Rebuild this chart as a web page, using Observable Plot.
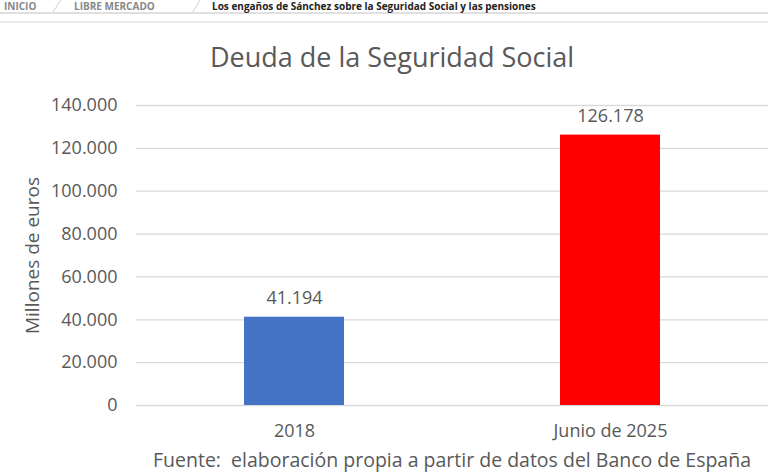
<!DOCTYPE html>
<html>
<head>
<meta charset="utf-8">
<script src="https://cdn.jsdelivr.net/npm/d3@7"></script>
<script src="https://cdn.jsdelivr.net/npm/@observablehq/plot@0.6"></script>
<style>
  html, body { margin: 0; padding: 0; background: #fff; width: 768px; height: 473px; overflow: hidden; position: relative; font-family: "Open Sans", sans-serif; }
  #crumb { position: absolute; left: 0; top: 0; width: 768px; height: 12px; border-bottom: 2px solid #e0e0e0; }
  #crumb span { position: absolute; top: 0px; font-size: 10px; line-height: 12px; font-weight: bold; white-space: nowrap; }
  #crumb svg { position: absolute; left: 0; top: 0; }
  #crumb2 { position: absolute; left: 0; top: 21px; width: 768px; height: 0; border-bottom: 2px solid #ececec; }
  #title { position: absolute; left: 0; top: 40px; width: 768px; text-align: center; font-size: 27px; color: #595959; line-height: 34px; padding-left: 16px; box-sizing: border-box; white-space: nowrap; }
  #chart { position: absolute; left: 0; top: 80px; }
  #foot { position: absolute; left: 153px; top: 448px; font-size: 19.5px; color: #595959; white-space: nowrap; line-height: 24px; }
</style>
</head>
<body>
<div id="crumb">
  <svg width="768" height="12"><line x1="53" y1="12" x2="61" y2="0" stroke="#cfcfcf"/><line x1="193" y1="12" x2="200" y2="0" stroke="#cfcfcf"/></svg>
  <span style="left:4px;color:#888">INICIO</span>
  <span style="left:74px;color:#888">LIBRE MERCADO</span>
  <span style="left:212px;color:#222">Los engaños de Sánchez sobre la Seguridad Social y las pensiones</span>
</div>
<div id="crumb2"></div>
<div id="title">Deuda de la Seguridad Social</div>
<div id="chart"></div>
<div id="foot">Fuente:&nbsp; elaboración propia a partir de datos del Banco de España</div>
<script>
const categories = ["2018", "Junio de 2025"];
const values = [41194, 126178];
const barColors = ["#4472C4", "#FF0000"];
const yTicks = [0, 20000, 40000, 60000, 80000, 100000, 120000, 140000];

const data = categories.map((c, i) => ({category: c, value: values[i], color: barColors[i]}));
const fmt = d3.formatLocale({decimal: ",", thousands: ".", grouping: [3], currency: ["", "€"]}).format(",d");

const chart = Plot.plot({
  width: 768,
  height: 373,
  marginTop: 25,
  marginBottom: 48,
  marginLeft: 136,
  marginRight: 0,
  style: {fontFamily: "Open Sans, sans-serif", fontSize: "18px", color: "#595959", background: "#fff"},
  x: {domain: categories, paddingInner: 0.683, paddingOuter: 0.3415, label: null},
  y: {domain: [0, 140000], ticks: yTicks, label: null},
  marks: [
    Plot.gridY(yTicks, {stroke: "#d9d9d9", strokeOpacity: 1, strokeWidth: 1.3}),
    Plot.barY(data, {x: "category", y: "value", fill: "color"}),
    Plot.text(data, {x: "category", y: "value", text: d => fmt(d.value), lineAnchor: "bottom", dy: -13, fill: "#595959", fontSize: 18}),
    Plot.axisY({ticks: yTicks, tickFormat: fmt, tickSize: 0, tickPadding: 19, label: "Millones de euros", labelAnchor: "center", labelArrow: false, labelOffset: 111, fontSize: 18}),
    Plot.axisX({tickSize: 0, tickPadding: 19, fontSize: 18, label: null})
  ]
});
chart.querySelectorAll("[aria-label='y-axis label'] text, g[aria-label='y-axis label']").forEach(el => el.setAttribute("font-size", "19"));
document.getElementById("chart").appendChild(chart);
</script>
</body>
</html>
